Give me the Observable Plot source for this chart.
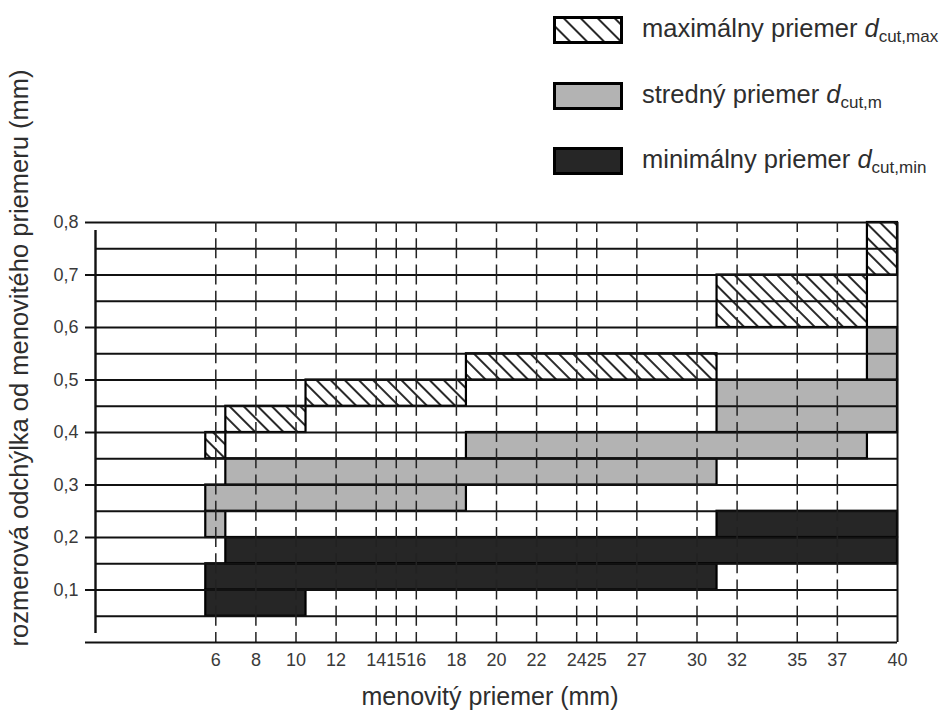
<!DOCTYPE html>
<html><head><meta charset="utf-8">
<script src="https://cdn.jsdelivr.net/npm/d3@7"></script>
<script src="https://cdn.jsdelivr.net/npm/@observablehq/plot@0.6"></script>
<style>
body{margin:0;background:#fff;font-family:"Liberation Sans",Arial,sans-serif;}
#wrap{position:relative;width:950px;height:713px;overflow:hidden;background:#fff}
#chart{position:absolute;left:0;top:0}
.ylab{position:absolute;left:19px;top:358px;transform:translate(-50%,-50%) rotate(-90deg);white-space:nowrap;font-size:25.5px;color:#2e2e2e}
.xlab{position:absolute;left:490px;top:696px;transform:translate(-50%,-50%);white-space:nowrap;font-size:25px;color:#2e2e2e}
.leg{position:absolute;left:553px;height:28px;display:flex;align-items:center;white-space:nowrap;font-size:25.5px;color:#2e2e2e}
.leg svg{margin-right:19px;flex:none}
.leg i{font-style:italic}
.leg sub{font-size:17px;vertical-align:-5px}
</style></head>
<body>
<div id="wrap">
  <div id="chart"></div>
  <div class="ylab">rozmerová odchýlka od menovitého priemeru (mm)</div>
  <div class="xlab">menovitý priemer (mm)</div>
  <div id="legend"></div>
</div>
<script>
// ---- data ----
const xTicks = [6, 8, 10, 12, 14, 15, 16, 18, 20, 22, 24, 25, 27, 30, 32, 35, 37, 40];
const yTicks = [0, 0.1, 0.2, 0.3, 0.4, 0.5, 0.6, 0.7, 0.8];
const yGrid = [0.05, 0.1, 0.15, 0.2, 0.25, 0.3, 0.35, 0.4, 0.45, 0.5, 0.55, 0.6, 0.65, 0.7, 0.75, 0.8];

// maximálny priemer (hatched)
const maxBars = [
  {x1: 5.5, x2: 6.5, y1: 0.35, y2: 0.40},
  {x1: 6.5, x2: 10.5, y1: 0.40, y2: 0.45},
  {x1: 10.5, x2: 18.5, y1: 0.45, y2: 0.50},
  {x1: 18.5, x2: 31, y1: 0.50, y2: 0.55},
  {x1: 31, x2: 38.5, y1: 0.60, y2: 0.70},
  {x1: 38.5, x2: 40, y1: 0.70, y2: 0.80}
];
// stredný priemer (gray)
const midBars = [
  {x1: 5.5, x2: 6.5, y1: 0.20, y2: 0.25},
  {x1: 5.5, x2: 18.5, y1: 0.25, y2: 0.30},
  {x1: 6.5, x2: 31, y1: 0.30, y2: 0.35},
  {x1: 18.5, x2: 38.5, y1: 0.35, y2: 0.40},
  {x1: 31, x2: 40, y1: 0.40, y2: 0.50},
  {x1: 38.5, x2: 40, y1: 0.50, y2: 0.60}
];
// minimálny priemer (dark)
const minBars = [
  {x1: 5.5, x2: 10.5, y1: 0.05, y2: 0.10},
  {x1: 5.5, x2: 31, y1: 0.10, y2: 0.15},
  {x1: 6.5, x2: 40, y1: 0.15, y2: 0.20},
  {x1: 31, x2: 40, y1: 0.20, y2: 0.25}
];

const seriesNames = ["maximálny priemer", "stredný priemer", "minimálny priemer"];
const seriesSubs = ["cut,max", "cut,m", "cut,min"];
const seriesFills = ["url(#hatch)", "#b3b3b3", "#262626"];

// ---- chart ----
const rectOpts = {x1: "x1", x2: "x2", y1: "y1", y2: "y2", stroke: "#000", strokeWidth: 2.2};
const svg = Plot.plot({
  width: 950,
  height: 713,
  marginLeft: 95,
  marginRight: 53,
  marginTop: 222,
  marginBottom: 71,
  style: {fontFamily: "'Liberation Sans', Arial, sans-serif", background: "transparent", color: "#111"},
  x: {domain: [0, 40]},
  y: {domain: [0, 0.8]},
  marks: [
    Plot.rect(minBars, {...rectOpts, fill: seriesFills[2]}),
    Plot.rect(midBars, {...rectOpts, fill: seriesFills[1]}),
    Plot.rect(maxBars, {...rectOpts, fill: seriesFills[0]}),
    Plot.ruleY(yGrid, {x1: 0, x2: 40, stroke: "#111", strokeWidth: 1.8}),
    Plot.ruleX(xTicks.filter(d => d < 40), {y1: 0, y2: 0.8, stroke: "#222", strokeWidth: 1.5, strokeDasharray: "20,6.25", strokeDashoffset: 10}),
    Plot.ruleY([0], {x1: 0, x2: 40, stroke: "#111", strokeWidth: 2}),
    Plot.ruleX([0], {y1: 0, y2: 0.8, insetTop: -9, insetBottom: -8, stroke: "#111", strokeWidth: 2.4}),
    Plot.ruleX([40], {y1: 0, y2: 0.8, stroke: "#111", strokeWidth: 2}),
    Plot.axisY({ticks: yTicks, tickSize: 10, tickPadding: 7, strokeWidth: 2, stroke: "#111", fill: "#3a3a3a", fontSize: 18,
      tickFormat: d => d === 0 ? "" : d.toFixed(1).replace(".", ","), label: null}),
    Plot.axisX({ticks: xTicks, tickSize: 0, tickPadding: 11, fill: "#3a3a3a", fontSize: 18, label: null})
  ]
});

const NS = "http://www.w3.org/2000/svg";
function addHatch(root, id, spacing) {
  const defs = document.createElementNS(NS, "defs");
  const pat = document.createElementNS(NS, "pattern");
  pat.setAttribute("id", id);
  pat.setAttribute("patternUnits", "userSpaceOnUse");
  pat.setAttribute("width", spacing);
  pat.setAttribute("height", spacing);
  pat.setAttribute("patternTransform", "rotate(-45)");
  const bg = document.createElementNS(NS, "rect");
  bg.setAttribute("width", spacing); bg.setAttribute("height", spacing); bg.setAttribute("fill", "#fff");
  const ln = document.createElementNS(NS, "line");
  ln.setAttribute("x1", spacing / 2); ln.setAttribute("x2", spacing / 2);
  ln.setAttribute("y1", 0); ln.setAttribute("y2", spacing);
  ln.setAttribute("stroke", "#111"); ln.setAttribute("stroke-width", 1.8);
  pat.appendChild(bg); pat.appendChild(ln); defs.appendChild(pat);
  root.insertBefore(defs, root.firstChild);
}
addHatch(svg, "hatch", 10);
document.getElementById("chart").appendChild(svg);

// ---- legend ----
const legend = document.getElementById("legend");
const rowTops = [16, 82, 147];
seriesNames.forEach((name, i) => {
  const row = document.createElement("div");
  row.className = "leg";
  row.style.top = rowTops[i] + "px";
  const sw = document.createElementNS(NS, "svg");
  sw.setAttribute("width", 70); sw.setAttribute("height", 28);
  if (i === 0) addHatch(sw, "hatchLeg", 12);
  const r = document.createElementNS(NS, "rect");
  r.setAttribute("x", 1.5); r.setAttribute("y", 1.5); r.setAttribute("width", 67); r.setAttribute("height", 25);
  r.setAttribute("fill", i === 0 ? "url(#hatchLeg)" : seriesFills[i]);
  r.setAttribute("stroke", "#000"); r.setAttribute("stroke-width", 3);
  sw.appendChild(r);
  row.appendChild(sw);
  const t = document.createElement("span");
  t.innerHTML = name + " <i>d</i><sub>" + seriesSubs[i] + "</sub>";
  row.appendChild(t);
  legend.appendChild(row);
});
</script>
</body></html>
